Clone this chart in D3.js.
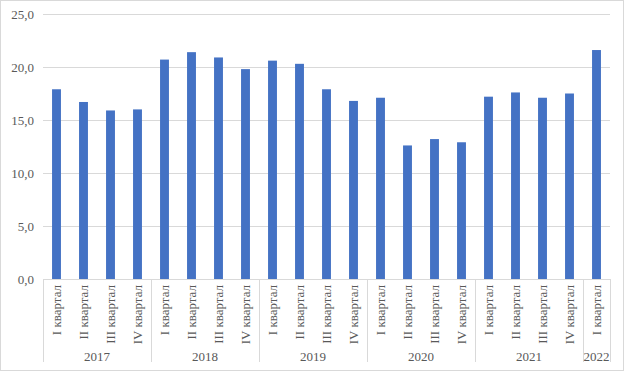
<!DOCTYPE html>
<html>
<head>
<meta charset="utf-8">
<script src="https://cdn.jsdelivr.net/npm/d3@7"></script>
<style>
  body { margin: 0; background: #fff; }
  text { font-family: "Liberation Serif", "Times New Roman", serif; fill: #595959; }
</style>
</head>
<body>
<script>
// quarters and years along the axis
var quarters = ["I квартал", "II квартал", "III квартал", "IV квартал"];
var years = ["2017", "2018", "2019", "2020", "2021", "2022"];
var quartersPerYear = [4, 4, 4, 4, 4, 1];
var values = [17.9, 16.7, 15.9, 16.0,
              20.7, 21.4, 20.9, 19.8,
              20.6, 20.3, 17.9, 16.8,
              17.1, 12.6, 13.2, 12.9,
              17.2, 17.6, 17.1, 17.5,
              21.6];
var yTicks = [0, 5, 10, 15, 20, 25];

// build category list
var cats = [];
years.forEach(function(y, i) {
  for (var q = 0; q < quartersPerYear[i]; q++) {
    cats.push({year: y, quarter: quarters[q], key: y + "-" + q});
  }
});
cats.forEach(function(c, i) { c.value = values[i]; });

var W = 624, H = 371;
var margin = {top: 14, right: 14, bottom: 92, left: 43};
var plotW = 610 - margin.left, plotH = 279 - margin.top;

var svg = d3.select("body").append("svg")
  .attr("width", W).attr("height", H);

// chart border
svg.append("rect")
  .attr("x", 0.5).attr("y", 0.5)
  .attr("width", W - 1).attr("height", H - 1)
  .attr("fill", "#fff").attr("stroke", "#d9d9d9");

var g = svg.append("g")
  .attr("transform", "translate(" + margin.left + "," + margin.top + ")");

var x = d3.scaleBand()
  .domain(cats.map(function(d) { return d.key; }))
  .range([0, plotW])
  .paddingInner(0.67).paddingOuter(0.335);

var y = d3.scaleLinear().domain([0, 25]).range([plotH, 0]);

// gridlines
g.selectAll(".grid").data(yTicks).enter().append("line")
  .attr("x1", 0).attr("x2", plotW)
  .attr("y1", function(d) { return Math.round(y(d)) + 0.5; })
  .attr("y2", function(d) { return Math.round(y(d)) + 0.5; })
  .attr("stroke", "#d9d9d9").attr("stroke-width", 1);

// y axis labels
var fmt = function(d) { return d3.format(".1f")(d).replace(".", ","); };
var yAxis = d3.axisLeft(y).tickValues(yTicks).tickSize(0).tickPadding(9).tickFormat(fmt);
var ya = g.append("g").call(yAxis);
ya.select(".domain").remove();
ya.selectAll("text")
  .style("font-family", "'Liberation Serif', serif")
  .style("font-size", "13px").attr("fill", "#595959");

// bars
g.selectAll(".bar").data(cats).enter().append("rect")
  .attr("x", function(d) { return x(d.key); })
  .attr("width", x.bandwidth())
  .attr("y", function(d) { return y(d.value); })
  .attr("height", function(d) { return y(0) - y(d.value); })
  .attr("fill", "#4472c4");

// category axis lines
var step = x.step();
var axisBottom = 348;
g.append("line")
  .attr("x1", 0).attr("x2", plotW)
  .attr("y1", plotH + 0.5).attr("y2", plotH + 0.5)
  .attr("stroke", "#d9d9d9");

var bounds = [0];
var acc = 0;
quartersPerYear.forEach(function(n) { acc += n; bounds.push(acc); });
g.selectAll(".sep").data(bounds).enter().append("line")
  .attr("x1", function(d) { return Math.round(d * step) + 0.5; })
  .attr("x2", function(d) { return Math.round(d * step) + 0.5; })
  .attr("y1", plotH).attr("y2", axisBottom)
  .attr("stroke", "#d9d9d9");

// quarter labels, rotated
g.selectAll(".qlab").data(cats).enter().append("text")
  .attr("transform", function(d) {
    return "translate(" + (x(d.key) + x.bandwidth() / 2 + 4.5) + "," + (plotH + 6) + ") rotate(-90)";
  })
  .attr("text-anchor", "end")
  .style("font-size", "13px")
  .text(function(d) { return d.quarter; });

// year labels
g.selectAll(".ylab").data(years).enter().append("text")
  .attr("x", function(d, i) { return (bounds[i] + bounds[i + 1]) / 2 * step; })
  .attr("y", plotH + 82)
  .attr("text-anchor", "middle")
  .style("font-size", "13px")
  .text(function(d) { return d; });
</script>
</body>
</html>
